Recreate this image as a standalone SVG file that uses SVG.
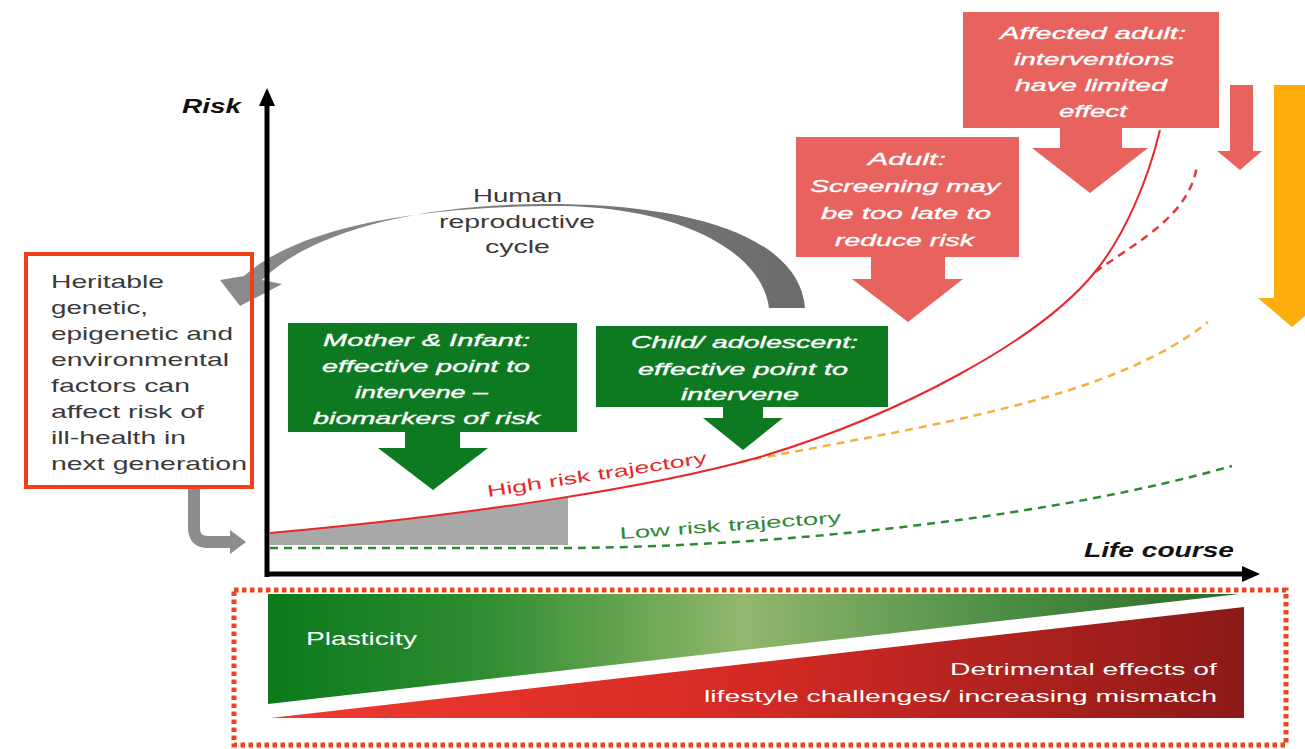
<svg xmlns="http://www.w3.org/2000/svg" width="1305" height="749" viewBox="0 0 1305 749">
<style>
text{font-family:"Liberation Sans",Arial,sans-serif;}
.wt{fill:#ffffff;stroke:#ffffff;stroke-width:0.35;font-style:italic;font-size:17px;text-anchor:middle;}
.lb{fill:#3a3a3a;font-size:18.5px;}
.ax{fill:#111;font-style:italic;font-weight:bold;font-size:20px;}
.gb{fill:#0d7a22;}
.rb{fill:#e8625e;}
.dash{fill:none;stroke-width:2.5;stroke-dasharray:8 6;}
</style>
<defs>
<linearGradient id="gGreen" x1="268" y1="0" x2="1240" y2="0" gradientUnits="userSpaceOnUse">
<stop offset="0" stop-color="#0a7a1c"/>
<stop offset="0.22" stop-color="#2e8d30"/>
<stop offset="0.49" stop-color="#93b76e"/>
<stop offset="0.75" stop-color="#4d8f45"/>
<stop offset="1" stop-color="#2a6a2a"/>
</linearGradient>
<linearGradient id="gRed" x1="270" y1="0" x2="1244" y2="0" gradientUnits="userSpaceOnUse">
<stop offset="0" stop-color="#f03a30"/>
<stop offset="0.5" stop-color="#d42a24"/>
<stop offset="1" stop-color="#8c1a18"/>
</linearGradient>
<linearGradient id="gArc" x1="240" y1="0" x2="805" y2="0" gradientUnits="userSpaceOnUse">
<stop offset="0" stop-color="#8a8a8a"/>
<stop offset="1" stop-color="#6c6c6c"/>
</linearGradient>
<clipPath id="greyClip"><rect x="268" y="470" width="300" height="80"/></clipPath>
</defs>

<!-- bottom panel -->
<g id="plasticity-panel">
<rect x="234" y="590" width="1052" height="155" fill="none" stroke="#e8461e" stroke-width="5" stroke-dasharray="4.5 3.5"/>
<polygon points="268,594 1240,594 268,704" fill="url(#gGreen)"/>
<polygon points="270,718 1244,607 1244,718" fill="url(#gRed)"/>
<text x="306" y="645" fill="#fff" font-size="18.5" textLength="111" lengthAdjust="spacingAndGlyphs">Plasticity</text>
<text x="1217" y="675" fill="#fff" font-size="17" text-anchor="end" textLength="267" lengthAdjust="spacingAndGlyphs">Detrimental effects of</text>
<text x="1217" y="702" fill="#fff" font-size="17" text-anchor="end" textLength="513" lengthAdjust="spacingAndGlyphs">lifestyle challenges/ increasing mismatch</text>
</g>

<!-- grey area under high-risk curve -->
<path d="M270,533 C470,515 650,488 760,457 L760,545 L270,545 Z" fill="#a8a8a8" clip-path="url(#greyClip)"/>

<!-- trajectories -->
<g id="connectors">
<path d="M270,548 L570,548 C800,546 1060,515 1232,466" class="dash" stroke="#2e8a32"/>
<path d="M740,462 C930,425 1110,400 1208,322" class="dash" stroke="#f5b040"/>
<path d="M1095,272 C1140,240 1190,215 1197,165" class="dash" stroke="#e23a3a"/>
<path d="M270,533 C470,515 650,488 760,457 C900,415 1040,340 1095,272 C1125,235 1148,180 1160,130" fill="none" stroke="#e8272a" stroke-width="2"/>
<!-- reproductive cycle arc -->
<path d="M805,308 C800,240 700,206 560,204 C420,202 310,232 262,280 L282,284 L240,306 L220,280 L244,276 C300,226 420,206 560,206 C680,207 762,252 769,308 Z" fill="url(#gArc)"/>
<!-- heritable to origin -->
<path d="M194,488 L194,528 Q194,542 208,542 L232,542" fill="none" stroke="#8c8c8c" stroke-width="12"/>
<polygon points="230,530 246,542 230,554" fill="#8c8c8c"/>
</g>

<g id="trajectory-labels">
<text transform="translate(488,497) rotate(-8.8)" x="0" y="0" fill="#e8272a" font-size="16.5" textLength="222" lengthAdjust="spacingAndGlyphs">High risk trajectory</text>
<text transform="translate(620,539) rotate(-4.2)" x="0" y="0" fill="#2e8a32" font-size="16.5" textLength="222" lengthAdjust="spacingAndGlyphs">Low risk trajectory</text>
</g>

<g id="reproductive-cycle-label">
<text x="517.5" y="202" class="lb" text-anchor="middle" fill="#333" textLength="89" lengthAdjust="spacingAndGlyphs">Human</text>
<text x="517" y="228" class="lb" text-anchor="middle" fill="#333" textLength="156" lengthAdjust="spacingAndGlyphs">reproductive</text>
<text x="517.5" y="253" class="lb" text-anchor="middle" fill="#333" textLength="65" lengthAdjust="spacingAndGlyphs">cycle</text>
</g>

<!-- axes -->
<g id="axes">
<line x1="267" y1="577" x2="267" y2="104" stroke="#000" stroke-width="5"/>
<polygon points="259,106 267,88 275,106" fill="#000"/>
<line x1="265" y1="574" x2="1244" y2="574" stroke="#000" stroke-width="5"/>
<polygon points="1242,566 1260,574 1242,582" fill="#000"/>
<text x="182" y="113" class="ax" textLength="59" lengthAdjust="spacingAndGlyphs">Risk</text>
<text x="1084" y="557" class="ax" textLength="150" lengthAdjust="spacingAndGlyphs">Life course</text>
</g>

<g id="heritable-box">
<rect x="26" y="254" width="226" height="233" fill="none" stroke="#f0401a" stroke-width="4"/>
<text x="51" y="288" class="lb" textLength="113" lengthAdjust="spacingAndGlyphs">Heritable</text>
<text x="51" y="314" class="lb" textLength="97" lengthAdjust="spacingAndGlyphs">genetic,</text>
<text x="51" y="340" class="lb" textLength="182" lengthAdjust="spacingAndGlyphs">epigenetic and</text>
<text x="51" y="366" class="lb" textLength="178" lengthAdjust="spacingAndGlyphs">environmental</text>
<text x="51" y="392" class="lb" textLength="139" lengthAdjust="spacingAndGlyphs">factors can</text>
<text x="51" y="418" class="lb" textLength="153" lengthAdjust="spacingAndGlyphs">affect risk of</text>
<text x="51" y="444" class="lb" textLength="135" lengthAdjust="spacingAndGlyphs">ill-health in</text>
<text x="51" y="470" class="lb" textLength="196" lengthAdjust="spacingAndGlyphs">next generation</text>
</g>

<g id="mother-infant">
<rect x="288" y="323" width="289" height="109" class="gb"/>
<polygon points="405,431 460,431 460,448 488,448 433,490 378,448 405,448" class="gb"/>
<text x="426.5" y="346" class="wt" textLength="207" lengthAdjust="spacingAndGlyphs">Mother &amp; Infant:</text>
<text x="426" y="372" class="wt" textLength="208" lengthAdjust="spacingAndGlyphs">effective point to</text>
<text x="421.5" y="398" class="wt" textLength="133" lengthAdjust="spacingAndGlyphs">intervene –</text>
<text x="426.5" y="424" class="wt" textLength="227" lengthAdjust="spacingAndGlyphs">biomarkers of risk</text>
</g>

<g id="child-adolescent">
<rect x="596" y="326" width="292" height="81" class="gb"/>
<polygon points="723,406 763,406 763,418 783,418 743,450 703,418 723,418" class="gb"/>
<text x="744.5" y="348" class="wt" textLength="227" lengthAdjust="spacingAndGlyphs">Child/ adolescent:</text>
<text x="743" y="375" class="wt" textLength="210" lengthAdjust="spacingAndGlyphs">effective point to</text>
<text x="740" y="400" class="wt" textLength="118" lengthAdjust="spacingAndGlyphs">intervene</text>
</g>

<g id="adult">
<rect x="796" y="137" width="223" height="120" class="rb"/>
<polygon points="871,256 945,256 945,279 963,279 908,322 852,279 871,279" class="rb"/>
<text x="907" y="165" class="wt" textLength="78" lengthAdjust="spacingAndGlyphs">Adult:</text>
<text x="905" y="192" class="wt" textLength="190" lengthAdjust="spacingAndGlyphs">Screening may</text>
<text x="906" y="219" class="wt" textLength="170" lengthAdjust="spacingAndGlyphs">be too late to</text>
<text x="904.5" y="246" class="wt" textLength="139" lengthAdjust="spacingAndGlyphs">reduce risk</text>
</g>

<g id="affected-adult">
<rect x="963" y="12" width="256" height="116" class="rb"/>
<polygon points="1060,127 1122,127 1122,148 1148,148 1090,193 1032,148 1060,148" class="rb"/>
<text x="1093" y="39" class="wt" textLength="186" lengthAdjust="spacingAndGlyphs">Affected adult:</text>
<text x="1094" y="65" class="wt" textLength="160" lengthAdjust="spacingAndGlyphs">interventions</text>
<text x="1091" y="91" class="wt" textLength="152" lengthAdjust="spacingAndGlyphs">have limited</text>
<text x="1093" y="117" class="wt" textLength="68" lengthAdjust="spacingAndGlyphs">effect</text>
</g>

<g id="small-red-arrow">
<polygon points="1230,85 1253,85 1253,151 1262,151 1240,170 1217,151 1230,151" class="rb"/>
</g>

<g id="orange-arrow">
<polygon points="1274,85 1312,85 1312,298 1326,298 1292,327 1258,298 1274,298" fill="#fdae0c"/>
</g>
</svg>
